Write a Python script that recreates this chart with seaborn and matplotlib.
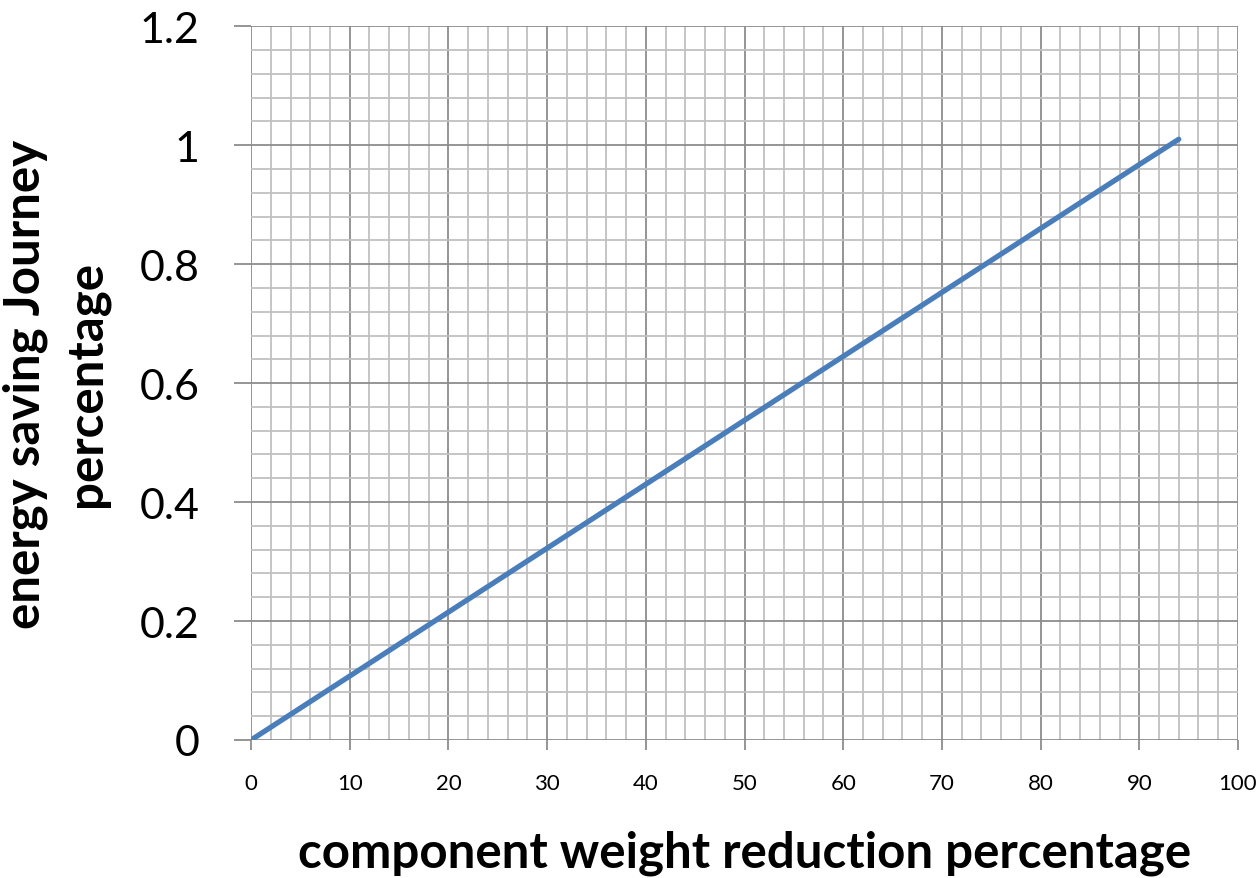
import matplotlib
matplotlib.use("Agg")
import matplotlib.pyplot as plt
import seaborn as sns
import pandas as pd
import numpy as np
from matplotlib.ticker import MultipleLocator

weight_reduction = [0, 10, 20, 30, 40, 50, 60, 70, 80, 90, 94]
energy_saving = [0, 0.1075, 0.215, 0.3225, 0.43, 0.5375, 0.645, 0.7525, 0.86, 0.9675, 1.01]
y_tick_values = [0, 0.2, 0.4, 0.6, 0.8, 1.0, 1.2]
y_tick_labels = ["0", "0.2", "0.4", "0.6", "0.8", "1", "1.2"]

sns.set_style("white")
plt.rcParams['font.family'] = ['Lato', 'DejaVu Sans']

df = pd.DataFrame({"x": weight_reduction, "y": energy_saving})

fig = plt.figure(figsize=(12.59, 8.79), dpi=100)
ax = fig.add_axes([0.1994, 0.157, 0.7839, 0.812])

sns.lineplot(data=df, x="x", y="y", ax=ax, color="#4a7ebb", linewidth=3.8,
             solid_capstyle="round", zorder=5)

ax.set_xlim(0, 100)
ax.set_ylim(0, 1.2)
ax.xaxis.set_major_locator(MultipleLocator(10))
ax.xaxis.set_minor_locator(MultipleLocator(2))
ax.set_yticks(y_tick_values)
ax.set_yticklabels(y_tick_labels)
ax.yaxis.set_minor_locator(MultipleLocator(0.04))

ax.grid(which="major", color="#8c8c8c", linewidth=1.3)
ax.grid(which="minor", color="#c0c0c0", linewidth=1.3)
ax.set_axisbelow(True)
for s in ax.spines.values():
    s.set_visible(False)

ax.tick_params(axis="y", which="major", length=12, width=1.3, color="#8c8c8c",
               labelsize=31, pad=25, left=True, labelcolor="black")
ax.tick_params(axis="x", which="major", length=7, width=1.3, color="#8c8c8c",
               labelsize=16, pad=17, bottom=True, labelcolor="black")
ax.tick_params(which="minor", length=0)

ax.set_xlabel("component weight reduction percentage", fontsize=35.5,
              fontweight="bold", labelpad=26, color="black")
ax.set_ylabel("energy saving Journey\npercentage", fontsize=35.5,
              fontweight="bold", labelpad=22, linespacing=1.42, color="black")

fig.savefig("out.png", dpi=100)
